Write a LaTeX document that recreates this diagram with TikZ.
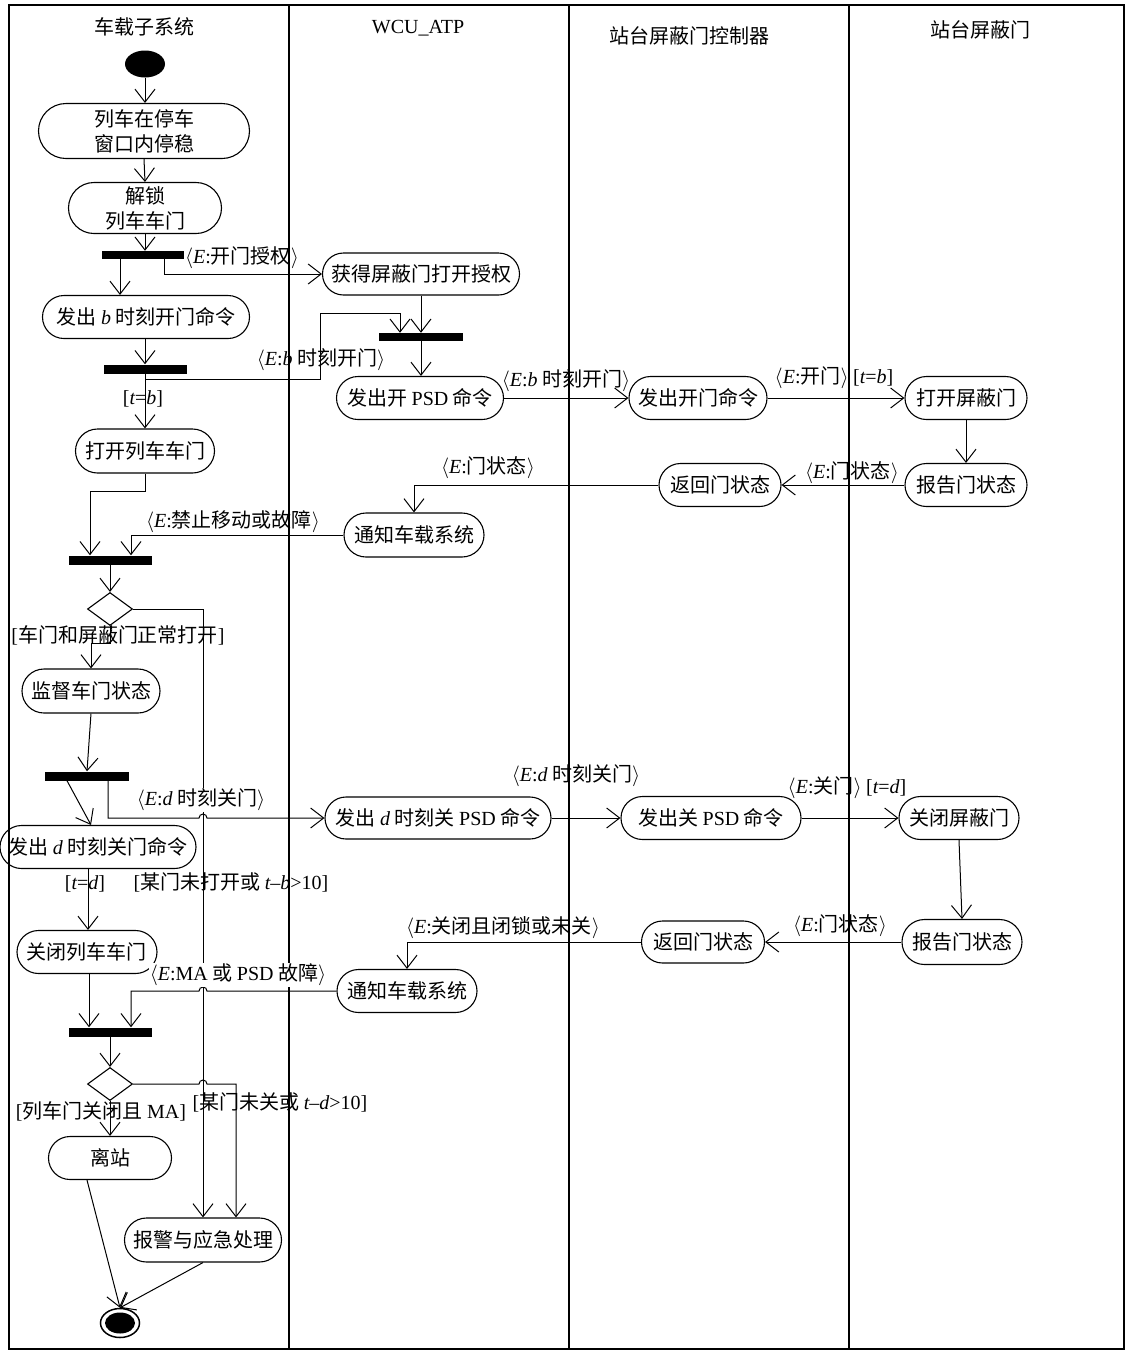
\documentclass[tikz,border=0pt]{standalone}
\usepackage{fontspec}
\setmainfont{Liberation Serif}
\newfontfamily\cjk{Noto Sans CJK SC}
\usetikzlibrary{shapes.misc,shapes.geometric,arrows.meta}
\newcommand\en[1]{{\rmfamily #1}}
\newcommand\ei[1]{{\rmfamily\itshape #1}}
\newcommand\lb{$\langle$}
\newcommand\rb{$\rangle$}
\newcommand\ev{\lb\ei{E}\en{:}}
\newcommand\fz{\fontsize{20}{25}\selectfont}
\begin{document}
\begin{tikzpicture}[x=1pt,y=-1pt,
 act/.style 2 args={rounded rectangle, draw, line width=1.1pt, inner sep=0pt, font=\cjk\fz, align=center, minimum width=#1pt, minimum height=#2pt},
 bar/.style 2 args={fill=black, inner sep=0pt, minimum width=#1pt, minimum height=#2pt},
 dia/.style={diamond, draw, line width=1.1pt, inner sep=0pt, minimum width=45pt, minimum height=33pt},
 lab/.style={inner sep=1pt, font=\cjk\fz},
 hdr/.style={inner sep=0pt, font=\cjk\fz},
 arr/.style={line width=1pt, -{Straight Barb[length=13pt,width=20pt]}},
]
\useasboundingbox (0,0) rectangle (1132,1350);
% frame and lanes
\draw[line width=1.5pt] (9,5) rectangle (1124,1349);
\draw[line width=2pt] (289,5) -- (289,1349);
\draw[line width=2pt] (569,5) -- (569,1349);
\draw[line width=2pt] (849,5) -- (849,1349);
\node[hdr] (h1) at (144,27) {车载子系统};
\node[hdr] (h2) at (418,28) {\en{WCU\_ATP}};
\node[hdr] (h3) at (689,36) {站台屏蔽门控制器};
\node[hdr] (h4) at (980,30) {站台屏蔽门};
% helper columns
\coordinate (x67) at (67,0);
\coordinate (x87) at (87,0);
\coordinate (x88) at (88,0);
\coordinate (x89) at (89,0);
\coordinate (x91) at (91,0);
\coordinate (x108) at (108,0);
\coordinate (x120) at (120,0);
\coordinate (x131) at (131,0);
\coordinate (x164) at (164,0);
\coordinate (x236) at (236,0);
% nodes
\node[ellipse, fill=black, minimum width=40pt, minimum height=27pt, inner sep=0pt] (start) at (145,64) {};
\node[act={211}{55}] (A) at (144,131) {列车在停车\\窗口内停稳};
\node[act={153}{51}] (B) at (145,208) {解锁\\列车车门};
\node[bar={82}{8}] (bar1) at (143,255) {};
\node[act={197}{42}] (D) at (421,274) {获得屏蔽门打开授权};
\node[act={207}{43}] (C) at (146,317) {发出 \ei{b} 时刻开门命令};
\node[bar={83}{9}] (bar2) at (145,369) {};
\node[bar={84}{8}] (bar3) at (421,337) {};
\node[act={167}{43}] (F) at (420,398) {发出开 \en{PSD} 命令};
\node[act={138}{43}] (G) at (698,398) {发出开门命令};
\node[act={122}{43}] (H) at (966,398) {打开屏蔽门};
\node[act={122}{43}] (I) at (966,485) {报告门状态};
\node[act={122}{43}] (J) at (720,485) {返回门状态};
\node[act={140}{44}] (K) at (414,535) {通知车载系统};
\node[act={139}{44}] (E) at (145,451) {打开列车车门};
\node[bar={83}{9}] (bar4) at (110,560) {};
\node[dia] (dia1) at (110,609) {};
\node[act={138}{44}] (L) at (91,691) {监督车门状态};
\node[bar={84}{9}] (bar5) at (87,776) {};
\node[act={196}{43}] (M) at (98,847) {发出 \ei{d} 时刻关门命令};
\node[act={226}{42}] (N) at (438,818) {发出 \ei{d} 时刻关 \en{PSD} 命令};
\node[act={180}{43}] (O) at (711,818) {发出关 \en{PSD} 命令};
\node[act={120}{43}] (P) at (959,818) {关闭屏蔽门};
\node[act={120}{45}] (Q) at (962,942) {报告门状态};
\node[act={123}{42}] (R) at (703,942) {返回门状态};
\node[act={140}{43}] (S) at (407,991) {通知车载系统};
\node[act={140}{43}] (T) at (87,952) {关闭列车车门};
\node[bar={83}{9}] (bar6) at (110,1032) {};
\node[dia] (dia2) at (110,1084) {};
\node[act={123}{43}] (U) at (110,1158) {离站};
\node[act={157}{44}] (V) at (203,1240) {报警与应急处理};
\node[ellipse, draw, line width=1.5pt, minimum width=39pt, minimum height=29pt, inner sep=0pt] (end) at (120,1323) {};
\fill (end.center) ellipse (15pt and 10.5pt);
% jump points
\coordinate (j1) at (199,818);
\coordinate (j3) at (207,991);
\coordinate (j4) at (199,1084);
\coordinate (k1) at (320,379);
\coordinate (k2) at (400,313);
\coordinate (e1) at (90,491);
\coordinate (d1) at (91,643);
% connectors
\draw[arr] (start.south) -- (start.south |- A.north);
\draw[arr] (A.south) -- (B.north);
\draw[arr] (B.south) -- (B.south |- bar1.north);
\draw[arr] (bar1.south -| x120) -- (C.north -| x120);
\draw[arr] (bar1.south -| x164) |- (D.west);
\draw[arr] (D.south) -- (D.south |- bar3.north);
\draw[arr] (C.south -| bar2.north) -- (bar2.north);
\draw[arr] (bar2.south) |- (k1) |- (k2) -- (k2 |- bar3.north);
\draw[arr] (bar2.south) -- (bar2.south |- E.north);
\draw[arr] (bar3.south) -- (bar3.south |- F.north);
\draw[arr] (F.east) -- (G.west);
\draw[arr] (G.east) -- (H.west);
\draw[arr] (H.south) -- (I.north);
\draw[arr] (I.west) -- (J.east);
\draw[arr] (J.west) -| (K.north);
\draw[arr] (K.west) -| (bar4.north -| x131);
\draw[arr] (E.south) |- (e1) -- (e1 |- bar4.north);
\draw[arr] (bar4.south) -- (dia1.north);
\draw[arr] (dia1.south) |- (d1) -- (L.north);
\draw[arr] (dia1.east) -| (V.north);
\draw[arr] (L.south) -- (bar5.north);
\draw[arr] (bar5.south -| x67) -- (M.north -| x91);
\draw[arr] (bar5.south -| x108) |- (j1) arc (180:0:4pt) -- (N.west);
\draw[arr] (N.east) -- (O.west);
\draw[arr] (O.east) -- (P.west);
\draw[arr] (P.south) -- (Q.north);
\draw[arr] (Q.west) -- (R.east);
\draw[arr] (R.west) -| (S.north);
\draw[arr] (S.west) -- (j3) arc (0:180:4pt) -| (bar6.north -| x131);
\draw[arr] (M.south -| x88) -- (T.north -| x88);
\draw[arr] (T.south -| x89) -- (bar6.north -| x89);
\draw[arr] (bar6.south) -- (dia2.north);
\draw[arr] (dia2.south) -- (U.north);
\draw[arr] (dia2.east) -- (j4) arc (180:0:4pt) -| (V.north -| x236);
\draw[arr] (U.south -| x87) -- (end.north);
\draw[arr] (V.south) -- (end.north);
% labels
\node[lab] (l1) at (242,258) {\ev 开门授权\rb};
\node[lab] (l2) at (321,360) {\ev\ei{b} 时刻开门\rb};
\node[lab] (g1) at (143,399) {\en{[}\ei{t}\en{=}\ei{b}\en{]}};
\node[lab] (l3) at (566,381) {\ev\ei{b} 时刻开门\rb};
\node[lab] (l4) at (834,378) {\ev 开门\rb\ \en{[}\ei{t}\en{=}\ei{b}\en{]}};
\node[lab] (l5) at (852,473) {\ev 门状态\rb};
\node[lab] (l6) at (488,468) {\ev 门状态\rb};
\node[lab] (l7) at (233,522) {\ev 禁止移动或故障\rb};
\node[lab] (g2) at (118,635) {\en{[}车门和屏蔽门正常打开\en{]}};
\node[lab, fill=white] (l8) at (201,800) {\ev\ei{d} 时刻关门\rb};
\node[lab] (l9) at (576,776) {\ev\ei{d} 时刻关门\rb};
\node[lab] (l10) at (847,788) {\ev 关门\rb\ \en{[}\ei{t}\en{=}\ei{d}\en{]}};
\node[lab] (l11) at (840,926) {\ev 门状态\rb};
\node[lab] (l12) at (503,928) {\ev 关闭且闭锁或未关\rb};
\node[lab, fill=white] (l13) at (238,975) {\ev\en{MA} 或 \en{PSD} 故障\rb};
\node[lab] (g3) at (85,884) {\en{[}\ei{t}\en{=}\ei{d}\en{]}};
\node[lab] (g4) at (231,882) {\en{[}某门未打开或 \ei{t}\en{–}\ei{b}\en{>10]}};
\node[lab] (g5) at (101,1111) {\en{[}列车门关闭且 \en{MA]}};
\node[lab] (g6) at (280,1102) {\en{[}某门未关或 \ei{t}\en{–}\ei{d}\en{>10]}};
\end{tikzpicture}
\end{document}
